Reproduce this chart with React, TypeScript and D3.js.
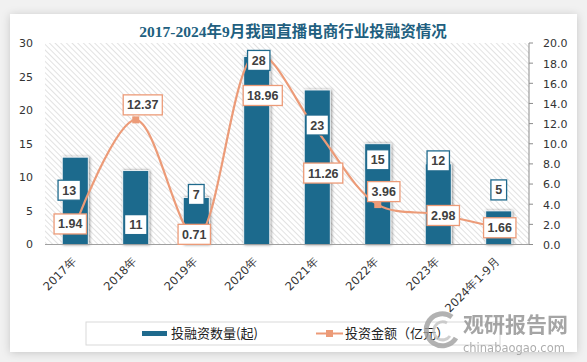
import React from "react";
import * as d3 from "d3";

const categories = ["2017年", "2018年", "2019年", "2020年", "2021年", "2022年", "2023年", "2024年1-9月"];
const dealCounts = [13, 11, 7, 28, 23, 15, 12, 5];
const amounts = [1.94, 12.37, 0.71, 18.96, 11.26, 3.96, 2.98, 1.66];
const leftTicks = [0, 5, 10, 15, 20, 25, 30];
const rightTicks = [0, 2, 4, 6, 8, 10, 12, 14, 16, 18, 20];

// hand-placed label nudges (pixels), like the moved labels in the original
const barLabelNudge = [[-6, 33], [0, 54], [0, -3], [2, 4], [0, 35], [0, 16], [0, -3], [0, -21]];
const lineLabelNudge = [[-5, -1], [7, -15], [-2, -3], [6, 42], [6, 42], [6, -13], [5, 1], [1, 0]];

const W = 587;
const H = 362;
const plot = { left: 45, right: 529, top: 43, bottom: 244.5 };
const BLUE = "#1f6a8d";
const ORANGE = "#ec9b78";

const labelWidth = (s: string) => {
  let w = 0;
  for (const c of s) w += c === "." ? 3.3 : 6.7;
  return w + 9;
};

function LabelBox({ x, y, text, stroke }: { x: number; y: number; text: string; stroke: string }) {
  const w = labelWidth(text);
  return (
    <g transform={`translate(${x},${y})`}>
      <rect x={-w / 2} y={-10} width={w} height={20} fill="#fff" stroke={stroke} strokeWidth={1.3} />
      <text
        textAnchor="middle"
        dy="0.36em"
        fontFamily="Liberation Sans, Arial, sans-serif"
        fontWeight="bold"
        fontSize={12.5}
        fill="#404040"
      >
        {text}
      </text>
    </g>
  );
}

export default function App() {
  const x = d3.scaleBand().domain(categories).range([plot.left, plot.right]).paddingInner(0).paddingOuter(0);
  const yLeft = d3.scaleLinear().domain([0, 30]).range([plot.bottom, plot.top]);
  const yRight = d3.scaleLinear().domain([0, 20]).range([plot.bottom, plot.top]);
  const barW = 26;
  const cx = (c: string) => (x(c) ?? 0) + x.bandwidth() / 2;

  const line = d3
    .line<number>()
    .x((_, i) => cx(categories[i]))
    .y((d) => yRight(d))
    .curve(d3.curveCatmullRom.alpha(0.5));

  const axisFont = "DejaVu Sans, Verdana, sans-serif";

  return (
    <svg width={W} height={H} style={{ position: "absolute", left: 0, top: 0 }}>
      <defs>
        <pattern id="hatch" patternUnits="userSpaceOnUse" width={4} height={4} patternTransform="rotate(-45)">
          <rect width={4} height={4} fill="#fff" />
          <line x1={0} y1={0} x2={0} y2={4} stroke="#d6d6d6" strokeWidth={1.4} />
        </pattern>
        <filter id="cardShadow" x="-5%" y="-5%" width="110%" height="110%">
          <feDropShadow dx={0} dy={1} stdDeviation={4} floodColor="#000" floodOpacity={0.18} />
        </filter>
        <filter id="barShadow" x="-30%" y="-10%" width="160%" height="120%">
          <feDropShadow dx={1} dy={0} stdDeviation={1.5} floodColor="#000" floodOpacity={0.45} />
        </filter>
      </defs>

      <rect width={W} height={H} fill="#f1f1f1" />
      <rect x={10} y={14} width={567} height={338} fill="#fff" filter="url(#cardShadow)" />

      <text
        x={293}
        y={37}
        textAnchor="middle"
        fontFamily="Liberation Serif, Noto Sans CJK SC, serif"
        fontWeight="bold"
        fontSize={15.5}
        fill="#215f80"
      >
        2017-2024年9月我国直播电商行业投融资情况
      </text>

      <rect x={plot.left} y={plot.top} width={plot.right - plot.left} height={plot.bottom - plot.top} fill="url(#hatch)" />

      {/* left axis labels */}
      {leftTicks.map((t) => (
        <text key={t} x={33} y={yLeft(t)} dy="0.36em" textAnchor="end" fontFamily={axisFont} fontSize={11} fill="#333">
          {t}
        </text>
      ))}

      {/* right axis */}
      <line x1={plot.right} x2={plot.right} y1={plot.top} y2={plot.bottom} stroke="#8c8c8c" />
      {rightTicks.map((t) => (
        <g key={t}>
          <line x1={plot.right} x2={plot.right + 4} y1={yRight(t)} y2={yRight(t)} stroke="#8c8c8c" />
          <text x={543} y={yRight(t)} dy="0.4em" fontFamily={axisFont} fontSize={11} fill="#333">
            {t.toFixed(1)}
          </text>
        </g>
      ))}

      {/* bars */}
      {categories.map((c, i) => (
        <rect
          key={c}
          x={cx(c) - barW / 2}
          y={yLeft(dealCounts[i])}
          width={barW}
          height={plot.bottom - yLeft(dealCounts[i])}
          fill={BLUE}
          stroke="#fff"
          strokeWidth={0.8}
          filter="url(#barShadow)"
        />
      ))}

      <line x1={plot.left} x2={plot.right} y1={plot.bottom} y2={plot.bottom} stroke="#a0a0a0" strokeWidth={1.2} />

      {/* line series */}
      <path d={line(amounts) ?? ""} fill="none" stroke={ORANGE} strokeWidth={2.2} />
      {amounts.map((v, i) => (
        <rect key={i} x={cx(categories[i]) - 3.5} y={yRight(v) - 3.5} width={7} height={7} fill={ORANGE} />
      ))}

      {/* labels */}
      {dealCounts.map((v, i) => (
        <LabelBox
          key={"b" + i}
          x={cx(categories[i]) + barLabelNudge[i][0]}
          y={yLeft(v) + barLabelNudge[i][1]}
          text={String(v)}
          stroke={BLUE}
        />
      ))}
      {amounts.map((v, i) => (
        <LabelBox
          key={"l" + i}
          x={cx(categories[i]) + lineLabelNudge[i][0]}
          y={yRight(v) + lineLabelNudge[i][1]}
          text={v.toFixed(2)}
          stroke={ORANGE}
        />
      ))}

      {/* x labels */}
      {categories.map((c) => (
        <text
          key={c}
          transform={`translate(${cx(c) + 2},${262}) rotate(-45)`}
          textAnchor="end"
          fontFamily={axisFont}
          fontSize={11.5}
          fill="#333"
        >
          {c}
        </text>
      ))}

      {/* legend */}
      <rect x={86} y={322} width={414} height={23} fill="#fff" stroke="#d9d9d9" />
      <rect x={142} y={331} width={25} height={5} fill={BLUE} />
      <text x={171} y={338} fontFamily="Noto Sans CJK SC, sans-serif" fontSize={13} fill="#222">
        投融资数量(起)
      </text>
      <line x1={316} x2={343} y1={333.5} y2={333.5} stroke={ORANGE} strokeWidth={2} />
      <rect x={326} y={330} width={7} height={7} fill={ORANGE} />
      <text x={345} y={338} fontFamily="Noto Sans CJK SC, sans-serif" fontSize={13} fill="#222">
        投资金额（亿元）
      </text>

      {/* watermark */}
      <g opacity={0.8}>
        <path d="M452,317 A16,16 0 1,0 456,338" fill="none" stroke="#a0a0a0" strokeWidth={5} />
        <path d="M447,323 A9,9 0 1,0 450,336" fill="none" stroke="#c4c4c4" strokeWidth={3} />
        <text x={463} y={332} fontFamily="Noto Sans CJK SC, sans-serif" fontWeight="bold" fontSize={21} fill="#8f8f8f">
          观研报告网
        </text>
        <text x={463} y={352} fontFamily="DejaVu Sans, sans-serif" fontSize={11.5} fill="#9a9a9a">
          chinabaogao.com
        </text>
      </g>
    </svg>
  );
}
